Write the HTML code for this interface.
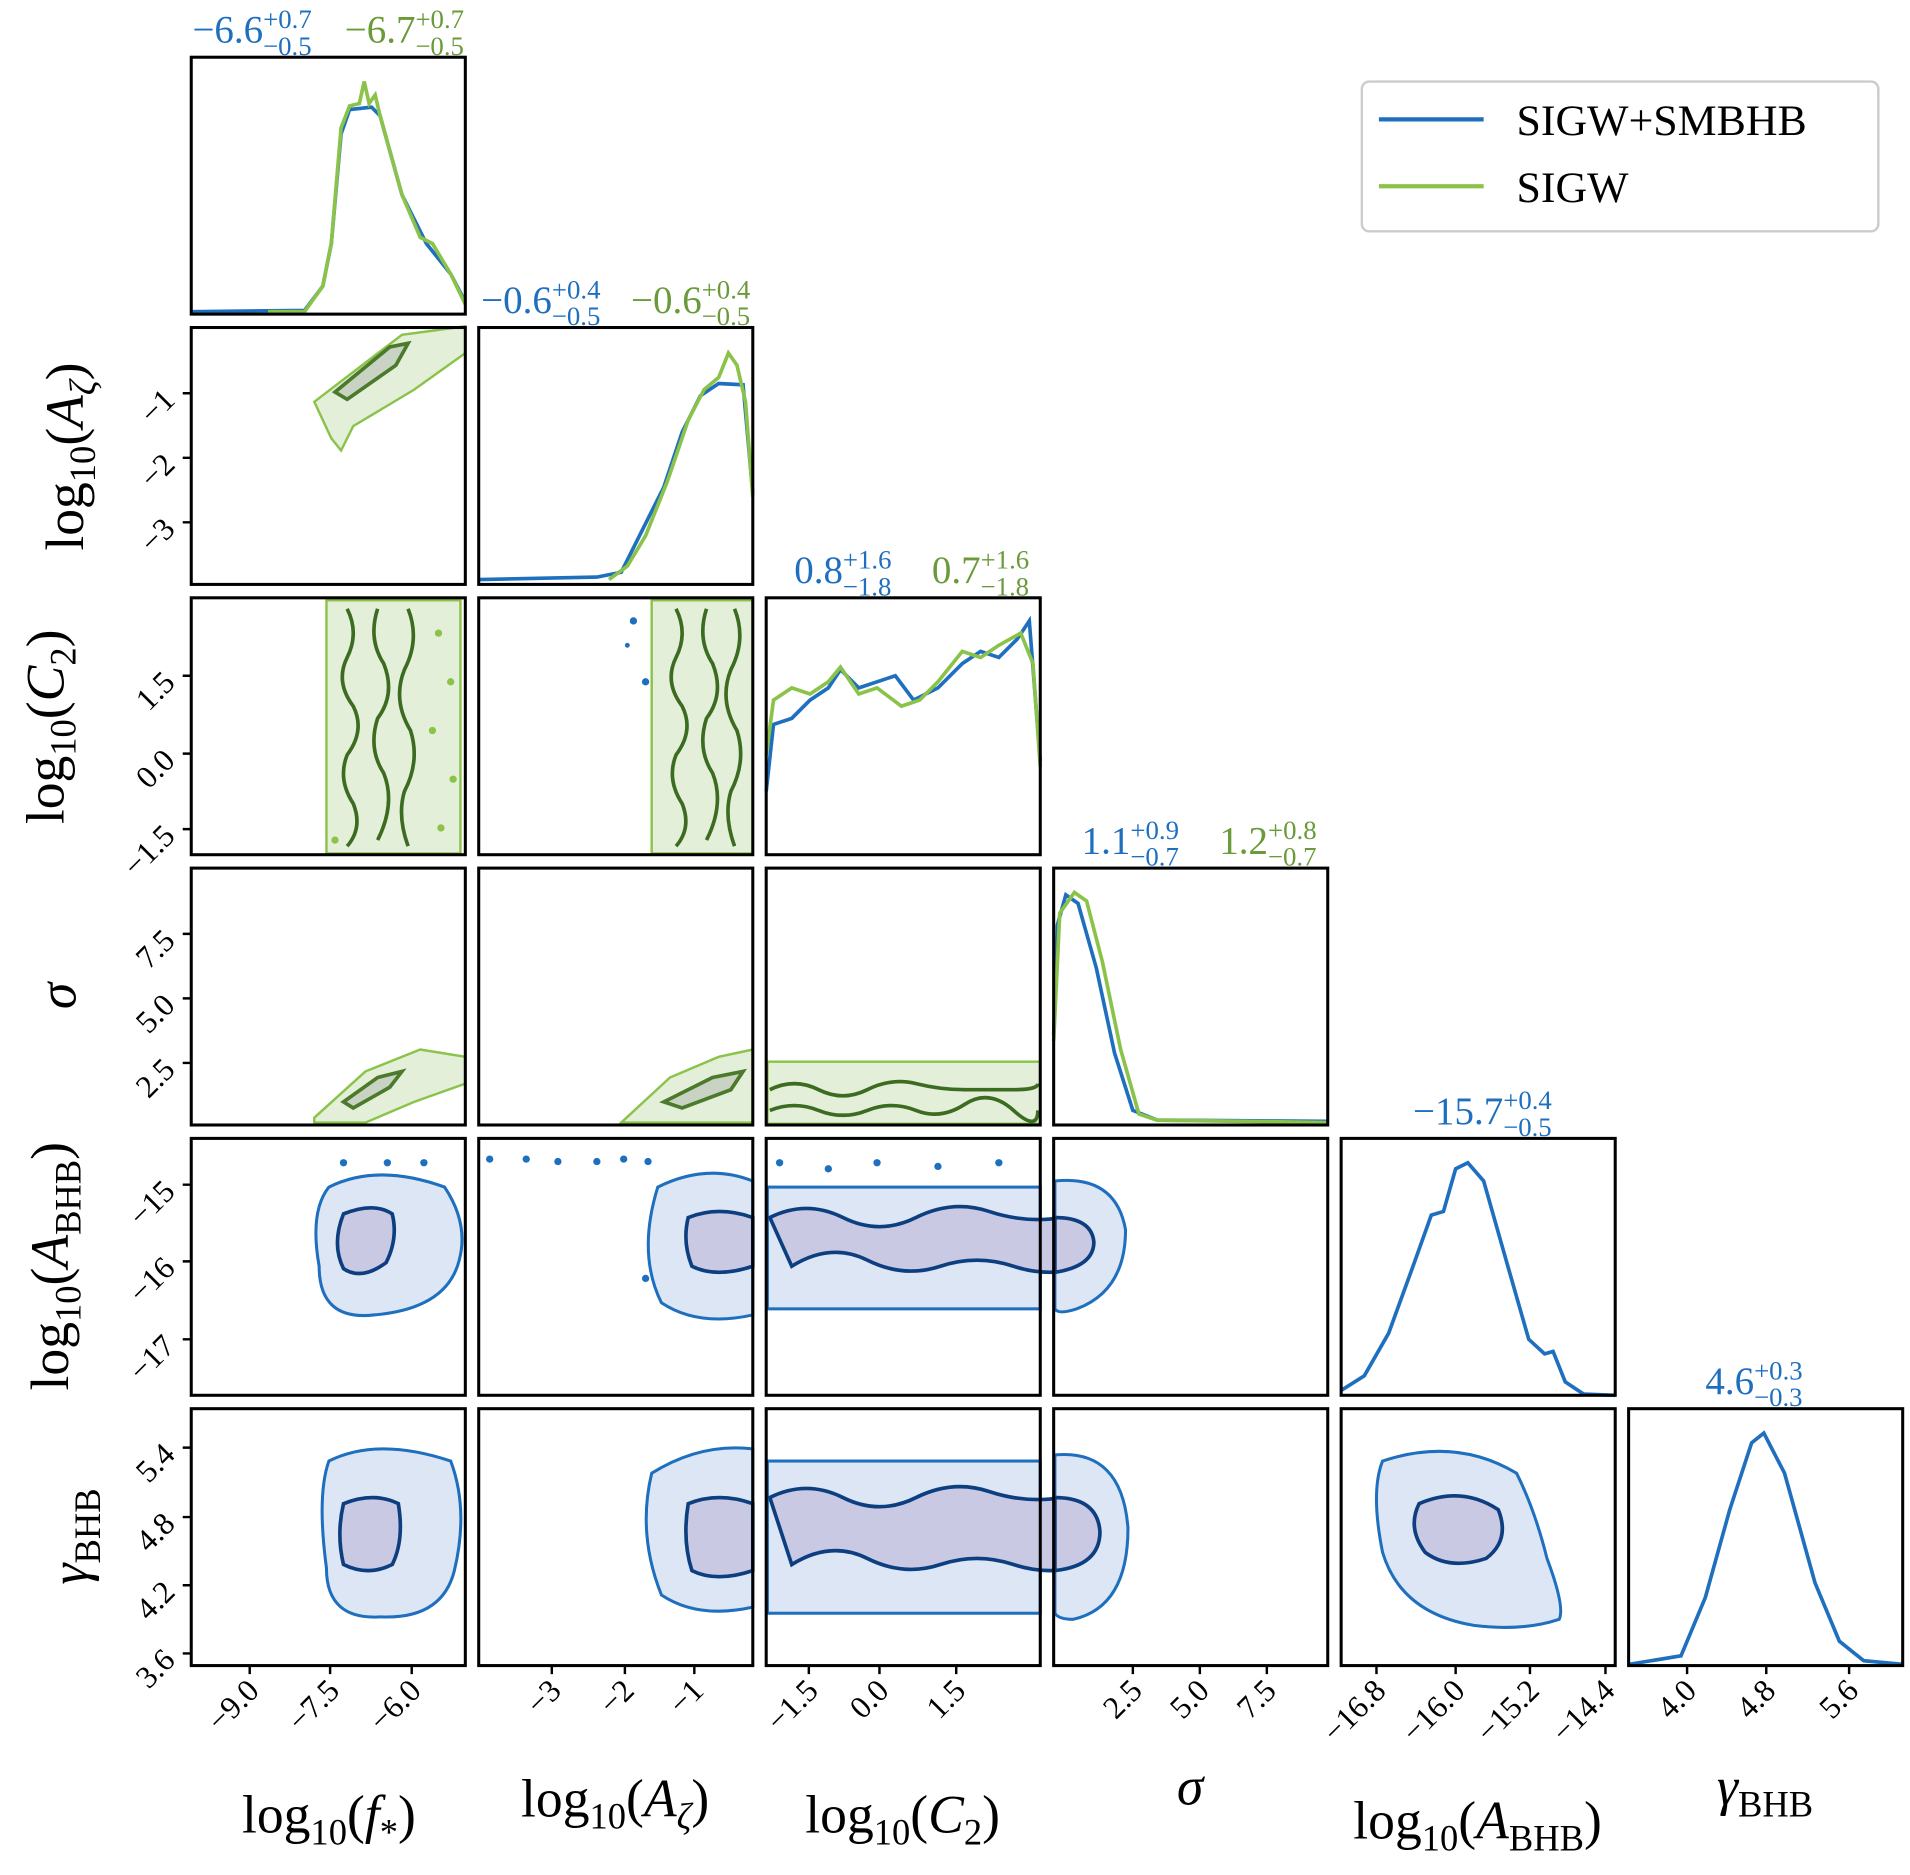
<!DOCTYPE html>
<html><head><meta charset="utf-8"><style>body{margin:0;background:#fff}svg{display:block}</style></head><body>
<svg width="1910" height="1875" viewBox="0 0 1568 1540" preserveAspectRatio="none" xmlns="http://www.w3.org/2000/svg" font-family="Liberation Serif, serif">
<rect width="1568" height="1540" fill="#fff"/>
<g>
<polygon points="258,330 330,275 382,268 382,290 340,320 290,350 280,370 272,360" fill="#e3efd8" stroke="#8bc34a" stroke-width="2"/>
<polygon points="275,322 320,285 335,282 325,300 285,328" fill="#c8d3c4" stroke="#4a7a2a" stroke-width="3"/>
<rect x="268" y="493" width="110" height="208" fill="#e3efd8" stroke="#8bc34a" stroke-width="2"/>
<g fill="none" stroke="#3c6b22" stroke-width="3">
<path d="M285,500 q10,20 0,40 q-10,20 5,40 q10,20 -5,40 q-8,20 5,40 q8,20 -5,35"/>
<path d="M310,500 q-8,25 5,45 q10,25 -5,45 q-8,25 5,45 q10,25 -5,55"/>
<path d="M335,500 q10,25 -3,50 q-10,25 5,50 q8,25 -5,50 q-6,20 3,45"/>
</g>
<g fill="#8bc34a"><circle cx="360" cy="520" r="3"/><circle cx="370" cy="560" r="3"/><circle cx="355" cy="600" r="3"/><circle cx="372" cy="640" r="3"/><circle cx="362" cy="680" r="3"/><circle cx="275" cy="690" r="3"/></g>
<rect x="535" y="493" width="83" height="208" fill="#e3efd8" stroke="#8bc34a" stroke-width="2"/>
<g fill="none" stroke="#3c6b22" stroke-width="3">
<path d="M555,500 q10,20 0,40 q-10,20 5,40 q10,20 -5,40 q-8,20 5,40 q8,20 -5,35"/>
<path d="M580,500 q-8,25 5,45 q10,25 -5,45 q-8,25 5,45 q10,25 -5,55"/>
<path d="M603,500 q10,25 -3,50 q-10,25 5,50 q8,25 -5,50 q-6,20 3,45"/>
</g>
<g fill="#1f6fbf"><circle cx="520" cy="510" r="3"/><circle cx="530" cy="560" r="3"/><circle cx="515" cy="530" r="2"/></g>
<polygon points="258,918 300,880 345,862 382,868 382,890 340,905 300,922 258,922" fill="#e3efd8" stroke="#8bc34a" stroke-width="2"/>
<polygon points="282,905 310,885 330,880 320,893 290,910" fill="#c8d3c4" stroke="#4a7a2a" stroke-width="3"/>
<polygon points="510,922 550,885 590,868 618,862 618,922" fill="#e3efd8" stroke="#8bc34a" stroke-width="2"/>
<polygon points="545,905 585,885 610,880 600,895 560,910" fill="#c8d3c4" stroke="#4a7a2a" stroke-width="3"/>
<rect x="630" y="872" width="224" height="51" fill="#e3efd8" stroke="#8bc34a" stroke-width="2"/>
<path d="M632,895 q20,-10 40,0 t40,0 t40,-5 t40,5 t40,0 t20,-5 M632,912 q20,-8 40,0 t40,0 t40,0 t40,-5 t40,5 t20,0" fill="none" stroke="#3c6b22" stroke-width="3"/>
<path d="M270,975 q40,-20 95,0 q20,30 12,60 q-10,40 -70,45 q-45,5 -45,-40 q-8,-45 8,-65z" fill="#dde6f5" stroke="#1f6fbf" stroke-width="2.5"/>
<path d="M282,997 q25,-10 40,0 q5,20 -5,40 q-20,15 -35,5 q-10,-20 0,-45z" fill="#c9c9e4" stroke="#0d3f80" stroke-width="3"/>
<path d="M540,975 q40,-20 78,-5 v110 q-45,10 -75,-10 q-20,-40 -3,-95z" fill="#dde6f5" stroke="#1f6fbf" stroke-width="2.5"/>
<path d="M565,1000 q25,-10 53,0 v40 q-30,10 -50,0 q-8,-20 -3,-40z" fill="#c9c9e4" stroke="#0d3f80" stroke-width="3"/>
<rect x="630" y="975" width="224" height="100" fill="#dde6f5" stroke="#1f6fbf" stroke-width="2.5"/>
<path d="M632,1000 q30,-15 60,0 t60,0 t60,-5 t60,5 t20,0 v40 q-30,10 -60,0 t-60,0 t-60,-5 t-62,5z" fill="#c9c9e4" stroke="#0d3f80" stroke-width="3"/>
<path d="M866,970 q50,-5 58,40 q0,50 -40,65 q-15,5 -18,0z" fill="#dde6f5" stroke="#1f6fbf" stroke-width="2.5"/>
<path d="M866,1000 q30,0 32,20 q0,20 -32,25z" fill="#c9c9e4" stroke="#0d3f80" stroke-width="3"/>
<g fill="#1f6fbf"><circle cx="282" cy="955" r="3"/><circle cx="318" cy="955" r="3"/><circle cx="348" cy="955" r="3"/><circle cx="402" cy="952" r="3"/><circle cx="432" cy="952" r="3"/><circle cx="458" cy="954" r="3"/><circle cx="490" cy="954" r="3"/><circle cx="512" cy="952" r="3"/><circle cx="532" cy="954" r="3"/><circle cx="640" cy="955" r="3"/><circle cx="680" cy="960" r="3"/><circle cx="720" cy="955" r="3"/><circle cx="770" cy="958" r="3"/><circle cx="820" cy="955" r="3"/><circle cx="530" cy="1050" r="3"/></g>
<path d="M270,1200 q40,-20 100,0 q15,40 3,90 q-10,40 -60,38 q-45,3 -45,-40 q-8,-60 2,-88z" fill="#dde6f5" stroke="#1f6fbf" stroke-width="2.5"/>
<path d="M282,1235 q25,-10 45,0 q5,30 -5,50 q-20,10 -40,0 q-6,-25 0,-50z" fill="#c9c9e4" stroke="#0d3f80" stroke-width="3"/>
<path d="M535,1210 q40,-25 83,-20 v130 q-45,10 -75,-10 q-20,-50 -8,-100z" fill="#dde6f5" stroke="#1f6fbf" stroke-width="2.5"/>
<path d="M565,1235 q25,-10 53,0 v55 q-30,10 -50,0 q-8,-25 -3,-55z" fill="#c9c9e4" stroke="#0d3f80" stroke-width="3"/>
<rect x="630" y="1200" width="224" height="125" fill="#dde6f5" stroke="#1f6fbf" stroke-width="2.5"/>
<path d="M632,1230 q30,-15 60,0 t60,0 t60,-5 t60,5 t20,0 v55 q-30,10 -60,0 t-60,0 t-60,-5 t-62,5z" fill="#c9c9e4" stroke="#0d3f80" stroke-width="3"/>
<path d="M866,1195 q55,-5 60,60 q0,65 -45,75 q-12,0 -15,-5z" fill="#dde6f5" stroke="#1f6fbf" stroke-width="2.5"/>
<path d="M866,1230 q35,0 37,28 q0,28 -37,32z" fill="#c9c9e4" stroke="#0d3f80" stroke-width="3"/>
<path d="M1135,1200 q60,-20 110,10 q15,30 25,70 q15,40 10,50 q-30,10 -70,5 q-60,-10 -75,-60 q-10,-50 0,-75z" fill="#dde6f5" stroke="#1f6fbf" stroke-width="2.5"/>
<path d="M1165,1235 q35,-15 65,5 q10,25 -10,40 q-30,10 -50,-5 q-15,-20 -5,-40z" fill="#c9c9e4" stroke="#0d3f80" stroke-width="3"/>
</g>
<g fill="none" stroke-width="3">
<path d="M157,256 L250,255 L265,235 L272,200 L280,110 L287,90 L305,88 L312,95 L330,160 L350,200 L370,225 L382,248" stroke="#1f6fbf"/>
<path d="M220,256 L250,256 L265,235 L272,200 L280,105 L287,87 L295,85 L299,67 L303,85 L308,78 L312,95 L330,160 L345,195 L355,200 L370,225 L382,250" stroke="#8bc34a"/>
<path d="M393,476 L490,474 L510,470 L525,440 L545,400 L560,355 L575,325 L590,315 L610,316 L618,405" stroke="#1f6fbf"/>
<path d="M500,476 L515,465 L530,440 L548,395 L565,345 L578,320 L590,310 L598,290 L605,300 L612,330 L618,408" stroke="#8bc34a"/>
<path d="M629,650 L635,595 L650,590 L665,575 L680,565 L690,550 L705,565 L720,560 L735,555 L750,575 L770,565 L790,545 L805,535 L820,540 L835,525 L845,510 L854,625" stroke="#1f6fbf"/>
<path d="M629,620 L635,575 L650,565 L665,570 L680,560 L690,548 L705,570 L720,565 L740,580 L755,575 L770,560 L790,535 L805,540 L820,530 L838,520 L848,545 L854,630" stroke="#8bc34a"/>
<path d="M865,850 L868,760 L875,735 L885,742 L900,795 L915,865 L930,912 L950,920 L1090,921" stroke="#1f6fbf"/>
<path d="M865,855 L870,750 L882,733 L892,740 L905,790 L920,862 L935,915 L950,920 L1090,922" stroke="#8bc34a"/>
<path d="M1101,1142 L1120,1130 L1140,1095 L1160,1040 L1175,998 L1185,995 L1195,960 L1205,955 L1218,970 L1235,1030 L1255,1100 L1268,1112 L1275,1110 L1285,1135 L1300,1145 L1326,1146" stroke="#1f6fbf"/>
<path d="M1337,1367 L1380,1360 L1400,1312 L1420,1240 L1438,1185 L1448,1177 L1465,1210 L1490,1300 L1510,1348 L1530,1364 L1562,1367" stroke="#1f6fbf"/>
</g>
<g fill="none" stroke="#000" stroke-width="2.5">
<rect x="157" y="47" width="225" height="211"/>
<rect x="157" y="269" width="225" height="211"/><rect x="393" y="269" width="225" height="211"/>
<rect x="157" y="491" width="225" height="211"/><rect x="393" y="491" width="225" height="211"/><rect x="629" y="491" width="225" height="211"/>
<rect x="157" y="713" width="225" height="211"/><rect x="393" y="713" width="225" height="211"/><rect x="629" y="713" width="225" height="211"/><rect x="865" y="713" width="225" height="211"/>
<rect x="157" y="935" width="225" height="211"/><rect x="393" y="935" width="225" height="211"/><rect x="629" y="935" width="225" height="211"/><rect x="865" y="935" width="225" height="211"/><rect x="1101" y="935" width="225" height="211"/>
<rect x="157" y="1157" width="225" height="211"/><rect x="393" y="1157" width="225" height="211"/><rect x="629" y="1157" width="225" height="211"/><rect x="865" y="1157" width="225" height="211"/><rect x="1101" y="1157" width="225" height="211"/><rect x="1337" y="1157" width="225" height="211"/>
</g>
<g stroke="#000" stroke-width="2">
<path d="M150,323h7M150,376h7M150,429h7M150,555h7M150,619h7M150,681h7M150,767h7M150,820h7M150,873h7M150,973h7M150,1036h7M150,1100h7M150,1189h7M150,1246h7M150,1302h7M150,1358h7"/>
<path d="M205,1368v7M271,1368v7M338,1368v7M453,1368v7M513,1368v7M570,1368v7M664,1368v7M722,1368v7M785,1368v7M930,1368v7M985,1368v7M1040,1368v7M1130,1368v7M1195,1368v7M1256,1368v7M1318,1368v7M1385,1368v7M1450,1368v7M1518,1368v7"/>
</g>
<g font-size="26" fill="#000" text-anchor="end">
<text transform="translate(145,330) rotate(-45)">−1</text>
<text transform="translate(145,383) rotate(-45)">−2</text>
<text transform="translate(145,436) rotate(-45)">−3</text>
<text transform="translate(145,562) rotate(-45)">1.5</text>
<text transform="translate(145,626) rotate(-45)">0.0</text>
<text transform="translate(145,688) rotate(-45)">−1.5</text>
<text transform="translate(145,774) rotate(-45)">7.5</text>
<text transform="translate(145,827) rotate(-45)">5.0</text>
<text transform="translate(145,880) rotate(-45)">2.5</text>
<text transform="translate(145,980) rotate(-45)">−15</text>
<text transform="translate(145,1043) rotate(-45)">−16</text>
<text transform="translate(145,1107) rotate(-45)">−17</text>
<text transform="translate(145,1196) rotate(-45)">5.4</text>
<text transform="translate(145,1253) rotate(-45)">4.8</text>
<text transform="translate(145,1309) rotate(-45)">4.2</text>
<text transform="translate(145,1365) rotate(-45)">3.6</text>
<text transform="translate(214,1390) rotate(-45)">−9.0</text>
<text transform="translate(280,1390) rotate(-45)">−7.5</text>
<text transform="translate(347,1390) rotate(-45)">−6.0</text>
<text transform="translate(462,1390) rotate(-45)">−3</text>
<text transform="translate(522,1390) rotate(-45)">−2</text>
<text transform="translate(579,1390) rotate(-45)">−1</text>
<text transform="translate(673,1390) rotate(-45)">−1.5</text>
<text transform="translate(731,1390) rotate(-45)">0.0</text>
<text transform="translate(794,1390) rotate(-45)">1.5</text>
<text transform="translate(939,1390) rotate(-45)">2.5</text>
<text transform="translate(994,1390) rotate(-45)">5.0</text>
<text transform="translate(1049,1390) rotate(-45)">7.5</text>
<text transform="translate(1139,1390) rotate(-45)">−16.8</text>
<text transform="translate(1204,1390) rotate(-45)">−16.0</text>
<text transform="translate(1265,1390) rotate(-45)">−15.2</text>
<text transform="translate(1327,1390) rotate(-45)">−14.4</text>
<text transform="translate(1394,1390) rotate(-45)">4.0</text>
<text transform="translate(1459,1390) rotate(-45)">4.8</text>
<text transform="translate(1527,1390) rotate(-45)">5.6</text>
</g>
<g font-size="44" fill="#000">
<text x="270" y="1505" text-anchor="middle">log<tspan font-size="30" dy="10">10</tspan><tspan dy="-10">(</tspan><tspan font-style="italic">f</tspan><tspan font-size="30" dy="10">*</tspan><tspan dy="-10">)</tspan></text>
<text x="505" y="1492" text-anchor="middle">log<tspan font-size="30" dy="10">10</tspan><tspan dy="-10">(</tspan><tspan font-style="italic">A</tspan><tspan font-size="30" font-style="italic" dy="10">ζ</tspan><tspan dy="-10">)</tspan></text>
<text x="741" y="1505" text-anchor="middle">log<tspan font-size="30" dy="10">10</tspan><tspan dy="-10">(</tspan><tspan font-style="italic">C</tspan><tspan font-size="30" dy="10">2</tspan><tspan dy="-10">)</tspan></text>
<text x="977" y="1482" text-anchor="middle" font-style="italic">σ</text>
<text x="1213" y="1510" text-anchor="middle">log<tspan font-size="30" dy="10">10</tspan><tspan dy="-10">(</tspan><tspan font-style="italic">A</tspan><tspan font-size="30" dy="10">BHB</tspan><tspan dy="-10">)</tspan></text>
<text x="1449" y="1482" text-anchor="middle"><tspan font-style="italic">γ</tspan><tspan font-size="30" dy="10">BHB</tspan></text>
<text transform="translate(68,375) rotate(-90)" text-anchor="middle">log<tspan font-size="30" dy="10">10</tspan><tspan dy="-10">(</tspan><tspan font-style="italic">A</tspan><tspan font-size="30" font-style="italic" dy="10">ζ</tspan><tspan dy="-10">)</tspan></text>
<text transform="translate(52,597) rotate(-90)" text-anchor="middle">log<tspan font-size="30" dy="10">10</tspan><tspan dy="-10">(</tspan><tspan font-style="italic">C</tspan><tspan font-size="30" dy="10">2</tspan><tspan dy="-10">)</tspan></text>
<text transform="translate(62,818) rotate(-90)" text-anchor="middle" font-style="italic">σ</text>
<text transform="translate(56,1040) rotate(-90)" text-anchor="middle">log<tspan font-size="30" dy="10">10</tspan><tspan dy="-10">(</tspan><tspan font-style="italic">A</tspan><tspan font-size="30" dy="10">BHB</tspan><tspan dy="-10">)</tspan></text>
<text transform="translate(72,1262) rotate(-90)" text-anchor="middle"><tspan font-style="italic">γ</tspan><tspan font-size="30" dy="10">BHB</tspan></text>
</g>
<g font-size="32">
<text x="158" y="35" fill="#1f6fbf">−6.6<tspan font-size="22" dy="-12">+0.7</tspan><tspan font-size="22" dx="-40" dy="22">−0.5</tspan></text>
<text x="283" y="35" fill="#6a9a3a">−6.7<tspan font-size="22" dy="-12">+0.7</tspan><tspan font-size="22" dx="-40" dy="22">−0.5</tspan></text>
<text x="395" y="257" fill="#1f6fbf">−0.6<tspan font-size="22" dy="-12">+0.4</tspan><tspan font-size="22" dx="-40" dy="22">−0.5</tspan></text>
<text x="518" y="257" fill="#6a9a3a">−0.6<tspan font-size="22" dy="-12">+0.4</tspan><tspan font-size="22" dx="-40" dy="22">−0.5</tspan></text>
<text x="652" y="479" fill="#1f6fbf">0.8<tspan font-size="22" dy="-12">+1.6</tspan><tspan font-size="22" dx="-40" dy="22">−1.8</tspan></text>
<text x="765" y="479" fill="#6a9a3a">0.7<tspan font-size="22" dy="-12">+1.6</tspan><tspan font-size="22" dx="-40" dy="22">−1.8</tspan></text>
<text x="888" y="701" fill="#1f6fbf">1.1<tspan font-size="22" dy="-12">+0.9</tspan><tspan font-size="22" dx="-40" dy="22">−0.7</tspan></text>
<text x="1001" y="701" fill="#6a9a3a">1.2<tspan font-size="22" dy="-12">+0.8</tspan><tspan font-size="22" dx="-40" dy="22">−0.7</tspan></text>
<text x="1160" y="923" fill="#1f6fbf">−15.7<tspan font-size="22" dy="-12">+0.4</tspan><tspan font-size="22" dx="-40" dy="22">−0.5</tspan></text>
<text x="1400" y="1145" fill="#1f6fbf">4.6<tspan font-size="22" dy="-12">+0.3</tspan><tspan font-size="22" dx="-40" dy="22">−0.3</tspan></text>
</g>
<rect x="1118" y="67" width="424" height="123" rx="6" fill="#fff" stroke="#ccc" stroke-width="2"/>
<line x1="1132" y1="98" x2="1218" y2="98" stroke="#1f6fbf" stroke-width="3.5"/>
<line x1="1132" y1="153" x2="1218" y2="153" stroke="#8bc34a" stroke-width="3.5"/>
<text x="1245" y="111" font-size="36" fill="#000">SIGW+SMBHB</text>
<text x="1245" y="166" font-size="36" fill="#000">SIGW</text>
</svg>
</body></html>
